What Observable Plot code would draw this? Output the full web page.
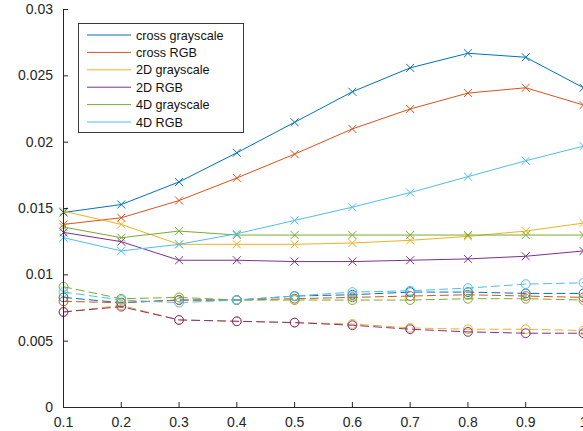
<!DOCTYPE html>
<html><head><meta charset="utf-8">
<script src="https://cdn.jsdelivr.net/npm/d3@7"></script>
<script src="https://cdn.jsdelivr.net/npm/@observablehq/plot@0.6"></script>
<style>
html,body{margin:0;padding:0;overflow:hidden;background:#fff}
#wrap{position:relative;width:583px;height:431px}
#legend{position:absolute;left:78px;top:23px}
</style></head><body>
<div id="wrap"></div>
<script>
// x positions (fraction)
const xValues = [0.1, 0.2, 0.3, 0.4, 0.5, 0.6, 0.7, 0.8, 0.9, 1.0];
const xTicks = [0.1, 0.2, 0.3, 0.4, 0.5, 0.6, 0.7, 0.8, 0.9, 1];
const yTicks = [0, 0.005, 0.01, 0.015, 0.02, 0.025, 0.03];

const seriesNames = ["cross grayscale", "cross RGB", "2D grayscale", "2D RGB", "4D grayscale", "4D RGB"];
const seriesColors = ["#0072BD", "#D95319", "#EDB120", "#7E2F8E", "#77AC30", "#4DBEEE"];

// solid lines with "x" markers
const crossGray = [0.0147, 0.0153, 0.0170, 0.0192, 0.0215, 0.0238, 0.0256, 0.0267, 0.0264, 0.0241];
const crossRGB  = [0.0138, 0.0143, 0.0156, 0.0173, 0.0191, 0.0210, 0.0225, 0.0237, 0.0241, 0.0228];
const gray2D    = [0.0148, 0.0138, 0.0123, 0.0123, 0.0123, 0.0124, 0.0126, 0.0129, 0.0133, 0.0139];
const rgb2D     = [0.0132, 0.0125, 0.0111, 0.0111, 0.0110, 0.0110, 0.0111, 0.0112, 0.0114, 0.0118];
const gray4D    = [0.0136, 0.0128, 0.0133, 0.0130, 0.0130, 0.0130, 0.0130, 0.0130, 0.0130, 0.0130];
const rgb4D     = [0.0128, 0.0118, 0.0123, 0.0131, 0.0141, 0.0151, 0.0162, 0.0174, 0.0186, 0.0197];

// dashed lines with "o" markers
const crossGrayD = [0.0083, 0.0079, 0.0081, 0.0081, 0.0084, 0.0085, 0.0087, 0.0087, 0.0086, 0.0086];
const crossRGBD  = [0.0080, 0.0079, 0.0081, 0.0081, 0.0082, 0.0083, 0.0084, 0.0085, 0.0084, 0.0083];
const gray2DD    = [0.0072, 0.0077, 0.0066, 0.0065, 0.0064, 0.0063, 0.0060, 0.0059, 0.0059, 0.0058];
const rgb2DD     = [0.0072, 0.0076, 0.0066, 0.0065, 0.0064, 0.0062, 0.0059, 0.0057, 0.0056, 0.0056];
const gray4DD    = [0.0091, 0.0082, 0.0083, 0.0081, 0.0081, 0.0081, 0.0081, 0.0082, 0.0082, 0.0081];
const rgb4DD     = [0.0087, 0.0081, 0.0079, 0.0081, 0.0084, 0.0087, 0.0088, 0.0090, 0.0093, 0.0094];

const solidSets = [crossGray, crossRGB, gray2D, rgb2D, gray4D, rgb4D];
const dashedSets = [crossGrayD, crossRGBD, gray2DD, rgb2DD, gray4DD, rgb4DD];

const toRows = vals => vals.map((v, i) => ({x: xValues[i], y: v}));

const axisColor = "#262626";
const font = "'Liberation Sans', Arial, Helvetica, sans-serif";

const dataMarks = [];
solidSets.forEach((vals, k) => {
  const rows = toRows(vals);
  dataMarks.push(Plot.line(rows, {x: "x", y: "y", stroke: seriesColors[k], strokeWidth: 1}));
  dataMarks.push(Plot.dot(rows, {x: "x", y: "y", stroke: seriesColors[k], symbol: "times", r: 3.7, strokeWidth: 1}));
});
dashedSets.forEach((vals, k) => {
  const rows = toRows(vals);
  dataMarks.push(Plot.line(rows, {x: "x", y: "y", stroke: seriesColors[k], strokeWidth: 1, strokeDasharray: "8,5"}));
  dataMarks.push(Plot.dot(rows, {x: "x", y: "y", stroke: seriesColors[k], r: 4.4, strokeWidth: 1, fill: "none"}));
});

const innerW = 583 - 63 - 0;
const innerH = 431 - 9 - 24;

const chart = Plot.plot({
  width: 583,
  height: 431,
  marginLeft: 63,
  marginRight: 0,
  marginTop: 9,
  marginBottom: 24,
  style: {fontFamily: font, fontSize: "14px", color: axisColor, background: "white", overflow: "visible"},
  x: {domain: [0.1, 1], label: null},
  y: {domain: [0, 0.03], label: null},
  marks: [
    ...dataMarks,
    Plot.ruleY([0], {stroke: axisColor, strokeWidth: 1}),
    Plot.ruleX([0.1], {stroke: axisColor, strokeWidth: 1}),
    Plot.tickX(xTicks, {x: d => d, stroke: axisColor, strokeWidth: 1, insetTop: innerH - 5}),
    Plot.tickY(yTicks, {y: d => d, stroke: axisColor, strokeWidth: 1, insetRight: innerW - 5}),
    Plot.axisX({ticks: xTicks, tickFormat: d => String(d), tickSize: 0, tickPadding: 10, fontSize: 14, fill: axisColor}),
    Plot.axisY({ticks: yTicks, tickFormat: d => String(d), tickSize: 0, tickPadding: 10.5, fontSize: 14, fill: axisColor})
  ]
});

const wrap = document.getElementById("wrap");
wrap.appendChild(chart);

// legend overlay
const lw = 166, lh = 110;
const leg = d3.select(wrap).append("svg")
  .attr("id", "legend")
  .attr("width", lw).attr("height", lh)
  .style("font-family", font);
leg.append("rect").attr("x", 0.5).attr("y", 0.5).attr("width", lw - 1).attr("height", lh - 1)
  .attr("fill", "white").attr("stroke", "#3a3a3a").attr("stroke-width", 1);
seriesNames.forEach((name, i) => {
  const cy = 12 + i * 17.4;
  leg.append("line").attr("x1", 9).attr("x2", 53).attr("y1", cy).attr("y2", cy)
    .attr("stroke", seriesColors[i]).attr("stroke-width", 1);
  leg.append("text").attr("x", 58).attr("y", cy + 4.5)
    .attr("font-size", 12.6).attr("fill", "#111").text(name);
});
</script>
</body></html>
